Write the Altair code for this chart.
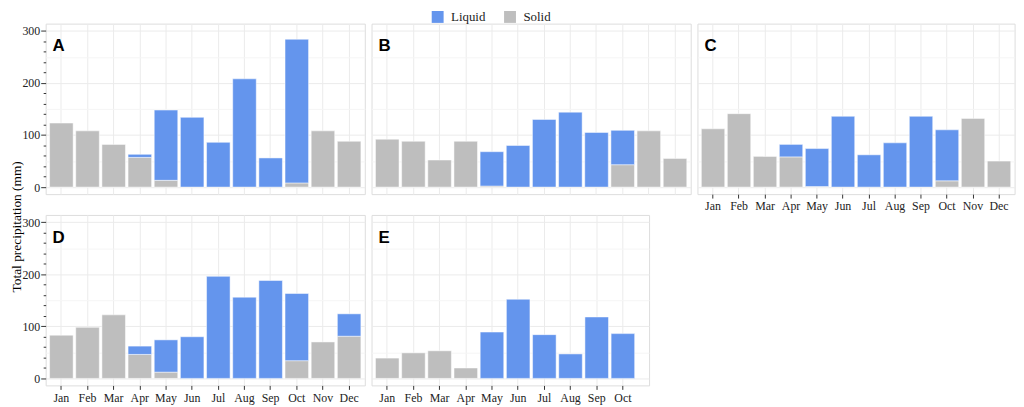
import altair as alt
import pandas as pd

months = ["Jan", "Feb", "Mar", "Apr", "May", "Jun", "Jul", "Aug", "Sep", "Oct", "Nov", "Dec"]
panels = ["A", "B", "C", "D", "E"]
types = ["Liquid", "Solid"]
colors = ["#6495ED", "#BEBEBE"]

liquid_A = [0, 0, 0, 6, 135, 134, 86, 208, 56, 276, 0, 0]
solid_A = [123, 108, 82, 57, 13, 0, 0, 0, 0, 8, 108, 88]
liquid_B = [0, 0, 0, 0, 66, 80, 130, 144, 105, 66, 0, 0]
solid_B = [92, 88, 52, 88, 2, 0, 0, 0, 0, 43, 108, 55]
liquid_C = [0, 0, 0, 24, 73, 136, 62, 85, 136, 98, 0, 0]
solid_C = [112, 141, 59, 58, 1, 0, 0, 0, 0, 12, 132, 50]
liquid_D = [0, 0, 0, 16, 62, 80, 196, 156, 188, 129, 0, 43]
solid_D = [83, 98, 122, 46, 12, 0, 0, 0, 0, 34, 70, 81]
liquid_E = [0, 0, 0, 0, 89, 152, 84, 47, 118, 86]
solid_E = [39, 49, 53, 20, 0, 0, 0, 0, 0, 0]

y_ticks = list(range(0, 301, 10))
y_domain = [-13.5, 314]

liquid_all = [liquid_A, liquid_B, liquid_C, liquid_D, liquid_E]
solid_all = [solid_A, solid_B, solid_C, solid_D, solid_E]

records = []
for p, liq, sol in zip(panels, liquid_all, solid_all):
    for m, l, s in zip(months[:len(liq)], liq, sol):
        if s > 0:
            records.append({"panel": p, "month": m, "type": "Solid", "value": s, "ord": 0})
        if l > 0:
            records.append({"panel": p, "month": m, "type": "Liquid", "value": l, "ord": 1})
df = pd.DataFrame(records)

SERIF = "Liberation Serif"
TXT = "#222222"
GRID = "#EBEBEB"
GRID_MINOR = "#F5F5F5"
TITLE = "Total precipitation (mm)"

grid_color = {"condition": {"test": "datum.value % 100 === 0", "value": GRID}, "value": GRID_MINOR}
grid_opacity = {"condition": {"test": "datum.value % 50 === 0", "value": 1}, "value": 0}


def y_axis(show, with_title=False):
    if show:
        kw = dict(
            values=y_ticks,
            labelExpr="datum.value % 100 === 0 ? datum.label : ''",
            labelOverlap=False,
            labelFont=SERIF, labelFontSize=12, labelColor=TXT, labelPadding=1,
            tickSize={"condition": {"test": "datum.value % 100 === 0", "value": 5}, "value": 2.5},
            tickOpacity={"condition": {"test": "datum.value % 20 === 0", "value": 1}, "value": 0},
            tickColor="#333333",
            domain=False,
            gridColor=grid_color, gridOpacity=grid_opacity,
        )
        if with_title:
            kw.update(title=TITLE, titleFont=SERIF, titleFontSize=13.5, titleFontWeight="normal",
                      titleColor="#000000", titleAngle=270, titleAlign="center",
                      titleBaseline="alphabetic", titleX=-25, titleY=11.5)
        else:
            kw.update(title=None)
        return alt.Axis(**kw)
    return alt.Axis(values=y_ticks, labels=False, ticks=False, domain=False, title=None,
                    gridColor=grid_color, gridOpacity=grid_opacity)


def x_axis(show):
    if show:
        return alt.Axis(labelAngle=0, labelFont=SERIF, labelFontSize=12, labelColor=TXT,
                        labelPadding=3, tickSize=4, tickColor="#333333", domain=False,
                        grid=True, gridColor=GRID, bandPosition=0.5, title=None)
    return alt.Axis(labels=False, ticks=False, domain=False, grid=True, gridColor=GRID,
                    bandPosition=0.5, title=None)


color = alt.Color(
    "type:N",
    scale=alt.Scale(domain=types, range=colors),
    legend=alt.Legend(orient="none", legendX=389, legendY=-13.5, direction="horizontal",
                      title=None, symbolType="square", symbolSize=144, symbolStrokeWidth=0,
                      symbolOpacity=1, labelFont=SERIF, labelFontSize=13, labelColor=TXT,
                      labelOffset=7, columnPadding=18),
)


def panel(p, width, show_y, show_x, with_title=False):
    n = len(liquid_all[panels.index(p)])
    mon = months[:n]
    if n == 12:
        xs = alt.Scale(domain=mon, paddingInner=0.1, paddingOuter=0.15)
    else:
        xs = alt.Scale(domain=mon, paddingInner=0.1, paddingOuter=0.35, align=0.214)
    bars = alt.Chart(df[df.panel == p]).mark_bar(stroke="white", strokeWidth=0.5).encode(
        x=alt.X("month:N", sort=mon, scale=xs, axis=x_axis(show_x)),
        y=alt.Y("value:Q", stack="zero",
                scale=alt.Scale(domain=y_domain, nice=False, zero=False),
                axis=y_axis(show_y, with_title)),
        color=color,
        order=alt.Order("ord:Q", sort="ascending"),
    )
    lab = alt.Chart(pd.DataFrame({"panel": [p]})).mark_text(
        font="Liberation Sans", fontWeight="bold", fontSize=17, color="#000000",
        align="left", baseline="alphabetic",
    ).encode(x=alt.value(7), y=alt.value(28), text="panel:N")
    return alt.layer(bars, lab).properties(width=width, height=172)


chart = alt.concat(
    panel("A", 322, True, False),
    panel("B", 322, False, False),
    panel("C", 320, False, True),
    panel("D", 322, True, True, with_title=True),
    panel("E", 280, False, True),
    columns=3,
    spacing={"row": 21, "column": 6.8},
    bounds="flush",
).resolve_scale(
    x="independent", y="independent"
).properties(
    padding={"left": 1, "top": 0, "right": 0, "bottom": 0}
).configure_view(
    stroke="#9E9E9E", strokeWidth=1
).configure(background="white")

chart.save("out.html", embed_options={"renderer": "svg", "actions": False})
